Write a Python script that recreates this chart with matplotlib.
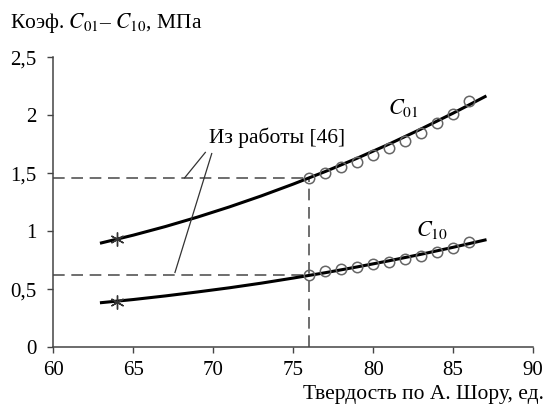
import matplotlib
matplotlib.use("Agg")
import matplotlib.pyplot as plt
from matplotlib.ticker import FuncFormatter

plt.rcParams['font.family'] = ['Liberation Serif', 'DejaVu Serif']
plt.rcParams['mathtext.fontset'] = 'stix'

# fitted curves
curve_x = [63, 65, 67, 69, 71, 73, 75, 77, 79, 81, 83, 85, 87]
c01_curve = [0.90, 0.967, 1.041, 1.122, 1.210, 1.305, 1.407, 1.515, 1.630, 1.752, 1.882, 2.018, 2.161]
c10_curve = [0.385, 0.412, 0.443, 0.477, 0.513, 0.553, 0.597, 0.643, 0.693, 0.746, 0.802, 0.862, 0.925]

# measured points (circles)
pts_x = [76, 77, 78, 79, 80, 81, 82, 83, 84, 85, 86]
c01_pts = [1.46, 1.50, 1.55, 1.60, 1.66, 1.72, 1.78, 1.85, 1.93, 2.01, 2.12]
c10_pts = [0.62, 0.655, 0.675, 0.695, 0.715, 0.735, 0.76, 0.785, 0.82, 0.855, 0.905]

# values from work [46] (stars)
ref_x = [64]
ref_c01 = [0.93]
ref_c10 = [0.39]

# reference lines
shore = 76
c01_at = 1.46
c10_at = 0.62

fig = plt.figure(figsize=(5.47, 4.12), dpi=100)
ax = fig.add_axes([0.0978, 0.157, 0.8766, 0.704])

dash = dict(color='#555555', lw=1.2, dashes=(7, 4))
ax.plot([60, shore], [c01_at, c01_at], **dash)
ax.plot([60, shore], [c10_at, c10_at], **dash)
ax.plot([shore, shore], [0, c01_at], **dash)

ax.plot(curve_x, c01_curve, color='black', lw=2.2)
ax.plot(curve_x, c10_curve, color='black', lw=2.2)

circ = dict(ls='none', marker='o', ms=7.5, mfc='none', mec='#666666', mew=1.1)
ax.plot(pts_x, c01_pts, **circ)
ax.plot(pts_x, c10_pts, **circ)

star = dict(ls='none', marker=(6, 2, 0), ms=10, color='#333333', mew=1.0)
ax.plot(ref_x, ref_c01, **star)
ax.plot(ref_x, ref_c10, **star)

# leader lines for the note
ax.plot([69.5, 68.2], [1.68, 1.46], color='#333333', lw=0.9)
ax.plot([69.9, 67.6], [1.67, 0.645], color='#333333', lw=0.9)
ax.text(69.7, 1.81, 'Из работы [46]', fontsize=15.5, va='center', ha='left')

ax.text(80.9, 2.06, '$C_{01}$', fontsize=16, va='center', ha='left')
ax.text(82.7, 1.01, '$C_{10}$', fontsize=16, va='center', ha='left')

ax.set_xlim(60, 90)
ax.set_ylim(0, 2.5)
ax.set_xticks([60, 65, 70, 75, 80, 85, 90])
ax.set_yticks([0, 0.5, 1, 1.5, 2, 2.5])
ax.yaxis.set_major_formatter(FuncFormatter(lambda v, p: ('%g' % v).replace('.', ',')))
ax.tick_params(labelsize=15, length=4, width=1, color='#444444', direction='out')
ax.tick_params(axis='x', pad=5.5)
ax.tick_params(axis='y', pad=8)
for s in ['top', 'right']:
    ax.spines[s].set_visible(False)
for s in ['left', 'bottom']:
    ax.spines[s].set_color('#444444')
    ax.spines[s].set_linewidth(1.1)

fig.text(10 / 547, 1 - 23 / 412, 'Коэф. $C_{01}$– $C_{10}$, МПа', fontsize=15.5, va='center', ha='left')
fig.text(544 / 547, 1 - 395 / 412, 'Твердость по А. Шору, ед.', fontsize=15.5, va='center', ha='right')

fig.savefig('out.png', dpi=100)
